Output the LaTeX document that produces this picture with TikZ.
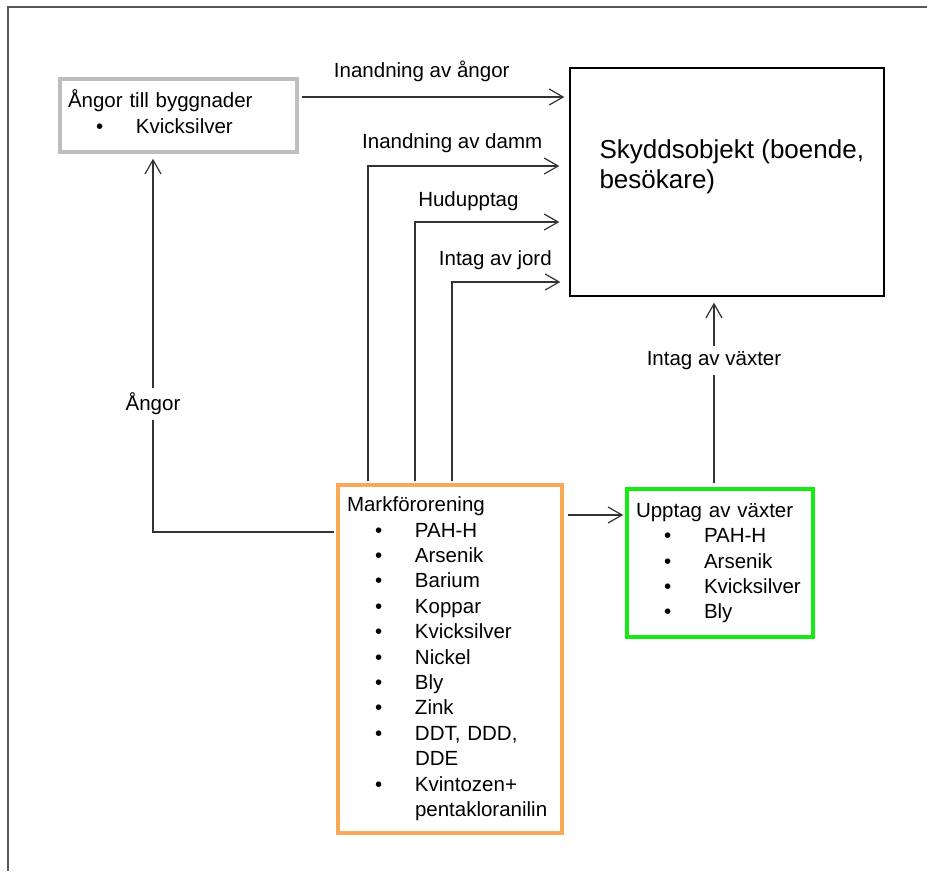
\documentclass[tikz,border=0pt]{standalone}
\usepackage{fontspec}
\setmainfont{Liberation Sans}
\usetikzlibrary{arrows.meta,calc}
\setlength{\parindent}{0pt}
\definecolor{boxgray}{RGB}{190,190,190}
\definecolor{boxorange}{RGB}{250,168,90}
\definecolor{boxgreen}{RGB}{20,235,20}
\newcommand{\itm}[1]{\hspace*{28pt}\makebox[40pt][l]{\textbullet}#1}
\newcommand{\cnt}[1]{\hspace*{68pt}#1}

\begin{document}
\begin{tikzpicture}[x=1pt, y=-1pt,
  every node/.style={font=\fontsize{20.5}{25.4}\selectfont},
  listbox/.style={line width=3.5pt, inner xsep=9pt, align=left},
  arr/.style={draw=black!80, line width=1.2pt, -{Straight Barb[length=14pt,width=16pt]}},
  lbl/.style={inner sep=2pt, anchor=base},
  gap/.style={fill=white, inner sep=5pt}]
\useasboundingbox (0,0) rectangle (927,871);
\draw[black!65, line width=1.5pt] (8,871) -- (8,7) -- (927,7);

\node[listbox, draw=boxgray, inner xsep=8pt, minimum width=237pt, minimum height=73pt, text width=221pt] (angor byggnader) at (178.5,115.5) {\begin{tabular}{@{}l@{}}
Ångor till byggnader \\
\itm{Kvicksilver}
\end{tabular}};

\node[draw, line width=1.3pt, minimum width=314pt, minimum height=228pt] (skyddsobjekt) at (727,182) {};
\node[anchor=west, font=\fontsize{26}{30}\selectfont] (skyddsobjekt text) at (596,167) {\begin{tabular}{@{}l@{}}
Skyddsobjekt (boende, \\
besökare)
\end{tabular}};

\node[listbox, draw=boxorange, minimum width=224pt, minimum height=348pt, text width=206pt] (markfororening) at (450,659) {\begin{tabular}{@{}l@{}}
Markförorening \\
\itm{PAH-H} \\
\itm{Arsenik} \\
\itm{Barium} \\
\itm{Koppar} \\
\itm{Kvicksilver} \\
\itm{Nickel} \\
\itm{Bly} \\
\itm{Zink} \\
\itm{DDT, DDD,} \\
\cnt{DDE} \\
\itm{Kvintozen+} \\
\cnt{pentakloranilin}
\end{tabular}};

\node[listbox, draw=boxgreen, minimum width=184pt, minimum height=148pt, text width=168pt] (upptag vaxter) at (720,563) {\begin{tabular}{@{}l@{}}
Upptag av växter \\
\itm{PAH-H} \\
\itm{Arsenik} \\
\itm{Kvicksilver} \\
\itm{Bly}
\end{tabular}};

\draw[arr] ($(angor byggnader.east)+(3,-18.5)$) -- ($(skyddsobjekt.west)+(-5,-85)$) node[lbl, pos=0.457, yshift=20pt] {Inandning av ångor};

\draw[arr] ($(markfororening.north)+(-82,-2)$) |- ($(skyddsobjekt.west)+(-10,-16)$) node[lbl, pos=0.72, yshift=18pt] {Inandning av damm};
\draw[arr] ($(markfororening.north)+(-35,-2)$) |- ($(skyddsobjekt.west)+(-10,40)$) node[lbl, pos=0.685, yshift=16pt] {Hudupptag};
\draw[arr] ($(markfororening.north)+(2,-2)$) |- ($(skyddsobjekt.west)+(-9,100)$) node[lbl, pos=0.70, yshift=17pt] {Intag av jord};

\draw[arr] ($(markfororening.west)+(-2,-127)$) -| ($(angor byggnader.south)+(-25.5,5)$) node[gap, pos=0.672] {Ångor};

\draw[arr] ($(markfororening.east)+(4,-144)$) -- ($(upptag vaxter.west)+(-2,-48)$);

\draw[arr] ($(upptag vaxter.north)+(-6,-4)$) -- ($(skyddsobjekt.south)+(-13,6)$) node[gap, pos=0.68] {Intag av växter};
\end{tikzpicture}
\end{document}
